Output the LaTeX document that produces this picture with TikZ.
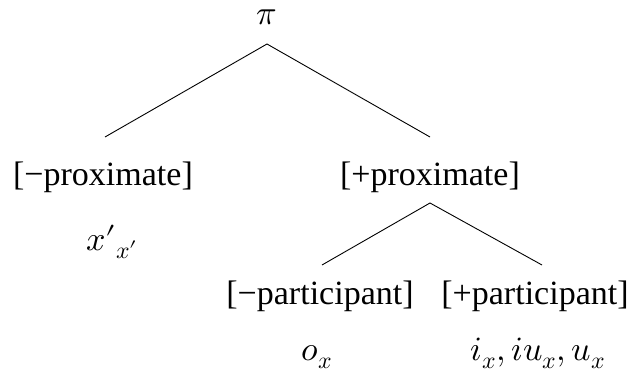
\documentclass[tikz,border=0pt]{standalone}
\usepackage{fontspec}
\usepackage{unicode-math}
\setmainfont{Liberation Serif}
\setmathfont{Latin Modern Math}
\tikzset{
  lab/.style={inner sep=0pt, font=\fontsize{34}{40}\selectfont},
  br/.style={line width=0.9pt, black}
}
\begin{document}
\begin{tikzpicture}[x=1pt,y=-1pt]
\useasboundingbox (0,0) rectangle (635,385);
\node[lab, anchor=base] (pi) at (267,25) {$\pi$};
\coordinate (a1) at (267,44);
\coordinate (l1) at (105,137);
\coordinate (r1) at (430,137);
\node[lab] (mprox) at (103,177) {[−proximate]};
\node[lab] (pprox) at (430,177) {[+proximate]};
\node[lab, anchor=base] (xp) at (112,250) {${x\prime}_{x\prime}$};
\coordinate (a2) at (430,203);
\coordinate (l2) at (322,265);
\coordinate (r2) at (542,265);
\node[lab] (mpart) at (320,296) {[−participant]};
\node[lab] (ppart) at (535,296) {[+participant]};
\node[lab, anchor=base] (ox) at (317,360) {$o_x$};
\node[lab, anchor=base] (ix) at (538,360) {$i_x, iu_x, u_x$};
\draw[br] (l1) -- (a1) -- (r1);
\draw[br] (l2) -- (a2) -- (r2);
\end{tikzpicture}
\end{document}
